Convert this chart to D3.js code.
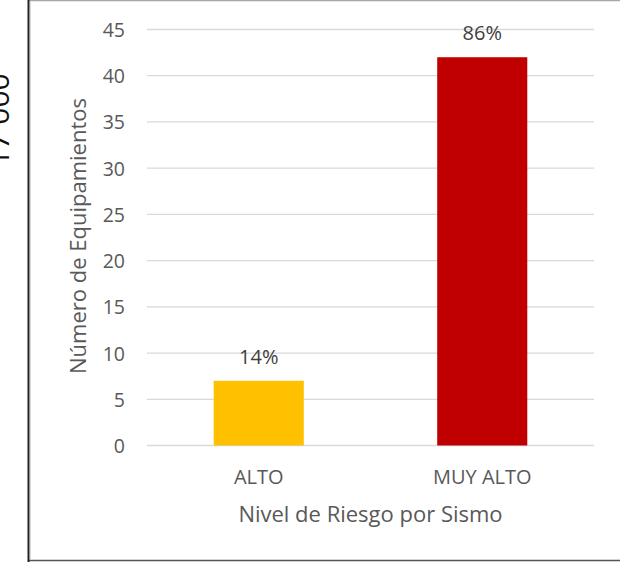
<!DOCTYPE html>
<html><head><meta charset="utf-8">
<script src="https://cdn.jsdelivr.net/npm/d3@7"></script>
<style>
html,body{margin:0;padding:0;background:#fff;}
svg{display:block;}
text{font-family:"Open Sans",sans-serif;fill:#595959;}
</style></head>
<body>
<svg id="chart" width="620" height="562"></svg>
<script>
const categories = ["ALTO", "MUY ALTO"];
const values = [7, 42];
const percentLabels = ["14%", "86%"];
const colors = ["#FFC000", "#C00000"];
const yTicks = [0, 5, 10, 15, 20, 25, 30, 35, 40, 45];
const xTitle = "Nivel de Riesgo por Sismo";
const yTitle = "Número de Equipamientos";
const sideText = "17 000";

const svg = d3.select("#chart");
const W = 620, H = 562;
const plot = {left: 147, right: 594, top: 29.5, bottom: 445.5};

svg.append("rect").attr("x",0).attr("y",0).attr("width",W).attr("height",H).attr("fill","#fff");

// clipped side text at left edge
svg.append("text").attr("transform","translate(9,120) rotate(-90)")
  .attr("text-anchor","middle").style("font-size","30px").style("fill","#111")
  .text(sideText);
svg.append("rect").attr("x",27).attr("y",0).attr("width",W-27).attr("height",H).attr("fill","#fff");

// frame
svg.append("line").attr("x1",28).attr("x2",W).attr("y1",0.5).attr("y2",0.5).attr("stroke","#a6a6a6").attr("stroke-width",1.5);
svg.append("line").attr("x1",28).attr("x2",W).attr("y1",560.5).attr("y2",560.5).attr("stroke","#555").attr("stroke-width",1.5);
svg.append("line").attr("x1",28.5).attr("x2",28.5).attr("y1",0).attr("y2",H).attr("stroke","#222").attr("stroke-width",2);
svg.append("line").attr("x1",30.5).attr("x2",30.5).attr("y1",1).attr("y2",560).attr("stroke","#d9d9d9").attr("stroke-width",1);

const x = d3.scaleBand().domain(categories).range([plot.left, plot.right]).paddingInner(0.597).paddingOuter(0.2985);
const y = d3.scaleLinear().domain([0,45]).range([plot.bottom, plot.top]);

// gridlines
svg.append("g").selectAll("line").data(yTicks).join("line")
  .attr("x1",plot.left).attr("x2",plot.right)
  .attr("y1",d=>y(d)).attr("y2",d=>y(d))
  .attr("stroke","#d9d9d9").attr("stroke-width",1.3);

// y axis labels
const yAxis = d3.axisLeft(y).tickValues(yTicks).tickSize(0).tickPadding(0);
const gy = svg.append("g").attr("transform",`translate(125,0)`).call(yAxis);
gy.select(".domain").remove();
gy.selectAll("text").style("font-size","19.5px").style("font-family","'Open Sans',sans-serif").attr("fill","#595959").attr("dy","0.36em");

// bars
svg.append("g").selectAll("rect").data(categories).join("rect")
  .attr("x",d=>x(d)).attr("width",x.bandwidth())
  .attr("y",(d,i)=>y(values[i])).attr("height",(d,i)=>y(0)-y(values[i]))
  .attr("fill",(d,i)=>colors[i]);

// data labels
svg.append("g").selectAll("text").data(categories).join("text")
  .attr("x",d=>x(d)+x.bandwidth()/2).attr("y",(d,i)=>y(values[i])-17)
  .attr("text-anchor","middle").style("font-size","20px").style("fill","#404040")
  .text((d,i)=>percentLabels[i]);

// x axis labels
const xAxis = d3.axisBottom(x).tickSize(0).tickPadding(0);
const gx = svg.append("g").attr("transform",`translate(0,484)`).call(xAxis);
gx.select(".domain").remove();
gx.selectAll("text").attr("dy",0).style("font-size","20px").style("font-family","'Open Sans',sans-serif").attr("fill","#595959");

// axis titles
svg.append("text").attr("x",(plot.left+plot.right)/2 + 0).attr("y",522)
  .attr("text-anchor","middle").style("font-size","22px").text(xTitle);
svg.append("text").attr("transform",`translate(86,236) rotate(-90)`)
  .attr("text-anchor","middle").style("font-size","22px").text(yTitle);
</script>
</body></html>
